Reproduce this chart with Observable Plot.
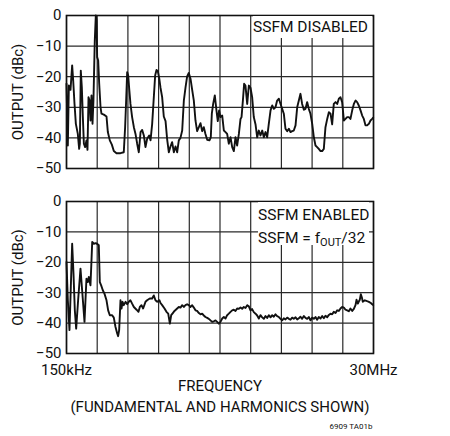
<!DOCTYPE html>
<html>
<head>
<meta charset="utf-8">
<script src="https://cdn.jsdelivr.net/npm/d3@7"></script>
<script src="https://cdn.jsdelivr.net/npm/@observablehq/plot@0.6"></script>
<style>
  html, body { margin: 0; padding: 0; background: #fff; }
  #wrap { position: relative; width: 450px; height: 436px; overflow: hidden; font-family: Roboto, "Liberation Sans", sans-serif; color: #111; }
  #wrap svg { position: absolute; left: 0; }
  .note { position: absolute; background: #fff; text-align: right; font-size: 15.5px; box-sizing: border-box; padding-right: 6px; white-space: nowrap; }
  .sub { font-size: 11px; position: relative; top: 3px; }
</style>
</head>
<body>
<div id="wrap"></div>
<script>
// ---- Data (frequency in MHz, output in dBc) ----
const xDomain = [0.15, 30];
const xTickValues = [0.15, 30];
const xTickLabels = ["150kHz", "30MHz"];
const yTicks = [0, -10, -20, -30, -40, -50];
const yLabel = "OUTPUT (dBc)";
const xLabel = "FREQUENCY\n(FUNDAMENTAL AND HARMONICS SHOWN)";
const figId = "6909 TA01b";
const noteTop = "SSFM DISABLED";
const noteBottom1 = "SSFM ENABLED";

const disabledFreq = [0.15,0.28,0.38,0.54,0.70,0.80,0.93,1.06,1.25,1.38,
1.45,1.54,1.64,1.74,1.84,1.96,2.09,2.19,2.29,2.39,
2.48,2.58,2.68,2.77,2.90,3.00,3.07,3.13,3.23,3.33,
3.46,3.55,3.78,4.04,4.17,4.36,4.56,4.75,5.01,5.40,
5.72,5.85,5.95,6.05,6.15,6.24,6.37,6.53,6.70,6.86,
7.02,7.18,7.35,7.51,7.67,7.83,7.99,8.19,8.32,8.48,
8.64,8.77,8.90,9.03,9.16,9.29,9.45,9.61,9.78,9.94,
10.10,10.26,10.42,10.59,10.75,10.91,11.07,11.23,11.40,11.56,
11.72,11.88,12.04,12.21,12.37,12.53,12.69,12.85,13.02,13.18,
13.34,13.50,13.66,13.83,14.05,14.18,14.28,14.41,14.57,14.73,
14.86,14.99,15.12,15.29,15.45,
15.61,15.77,15.93,16.10,16.26,16.42,16.58,16.74,16.91,17.07,
17.17,17.30,17.42,17.55,17.72,17.88,18.04,18.20,18.36,18.53,
18.69,18.85,19.01,19.18,19.34,19.50,19.66,19.82,19.99,20.15,
20.31,20.47,20.63,20.80,20.96,21.12,21.28,21.44,21.61,21.77,
21.93,22.09,22.25,22.42,22.58,22.74,22.90,23.06,23.23,23.39,
23.55,23.71,23.87,24.04,24.20,24.36,24.52,24.68,24.85,25.01,
25.17,25.33,25.50,25.66,25.82,25.98,26.14,26.31,26.47,26.63,
26.79,26.95,27.12,27.28,27.44,27.60,27.76,27.93,28.09,28.25,
28.41,28.57,28.74,28.90,29.06,29.22,29.38,29.55,29.71,29.87,
29.97];
const disabledDb = [-22.3,-42.5,-22.9,-24.3,-16.3,-21.2,-28.9,-35.4,-38.7,-43.6,
-41.9,-18.0,-23.4,-33.2,-41.9,-43.0,-40.8,-43.9,-26.7,-27.8,
-34.3,-26.1,-35.4,-27.8,-8.2,0,-1.6,-13.6,-14.7,-22.3,
-30.0,-32.1,-32.4,-33.0,-38.1,-40.8,-42.2,-44.3,-45.0,-45.0,
-44.7,-36.5,-27.8,-18.5,-19.6,-23.6,-28.9,-33.2,-36.5,-38.7,
-41.9,-44.7,-38.1,-37.4,-39.2,-43.0,-40.3,-39.2,-40.8,-35.4,
-26.7,-19.6,-17.8,-18.2,-20.4,-23.6,-26.7,-33.0,-34.5,-40.6,
-44.7,-42.8,-41.4,-44.7,-42.8,-44.7,-40.8,-40.0,-37.6,-27.8,
-23.6,-19.9,-18.8,-20.7,-24.3,-27.8,-34.3,-37.8,-36.5,-35.2,
-37.8,-36.5,-38.7,-40.6,-40.8,-39.8,-32.1,-28.9,-26.1,-31.0,
-34.5,-31.0,-33.2,-32.7,-37.6,
-38.1,-38.7,-41.9,-39.8,-43.0,-44.3,-39.8,-42.5,-38.7,-33.8,
-33.2,-27.8,-22.3,-22.9,-28.9,-22.9,-23.6,-26.7,-33.2,-35.6,
-39.8,-37.6,-39.2,-37.6,-39.8,-38.1,-39.8,-35.4,-31.0,-29.4,
-30.5,-30.0,-27.8,-27.2,-28.9,-30.5,-32.1,-37.0,-37.8,-37.0,
-38.1,-37.8,-37.6,-35.9,-30.0,-27.8,-25.6,-28.9,-30.8,-30.5,
-28.3,-30.5,-32.1,-35.4,-39.8,-42.5,-43.0,-43.6,-44.3,-44.3,
-43.6,-36.5,-33.8,-31.6,-32.1,-35.6,-28.9,-28.3,-28.9,-27.2,
-26.7,-28.3,-34.3,-33.8,-33.2,-33.2,-33.8,-31.0,-28.9,-27.8,
-28.3,-29.4,-31.0,-32.7,-33.8,-35.9,-35.9,-35.4,-34.3,-33.8,
-33.4];

const enabledFreq = [0.15,0.28,0.44,0.57,0.70,0.83,0.96,1.09,1.28,1.51,
1.67,1.90,2.09,2.22,2.32,2.48,2.58,2.65,2.81,3.00,
3.20,3.29,3.39,3.52,3.68,3.84,4.04,4.20,4.36,4.59,
4.75,4.91,5.08,5.17,5.27,5.40,5.50,5.60,5.72,5.89,
6.05,6.21,6.37,6.53,6.70,6.96,7.15,7.28,7.44,7.60,
7.83,7.99,8.25,8.48,8.64,8.80,8.97,9.19,
9.29,9.45,9.68,9.87,10.04,10.20,10.33,10.49,10.65,10.91,
11.07,11.23,11.40,11.56,11.72,11.88,12.04,12.21,12.37,12.53,
12.69,12.85,13.02,13.18,13.34,13.50,13.66,13.83,13.99,14.15,
14.31,14.47,14.64,14.80,14.96,15.12,15.29,15.45,
15.61,15.77,15.93,16.10,16.26,16.42,16.58,16.74,16.91,17.07,
17.23,17.39,17.55,17.72,17.88,18.04,18.20,18.36,18.53,18.69,
18.85,19.01,19.18,19.34,19.50,19.66,19.82,19.99,20.15,20.31,
20.47,20.63,20.80,20.96,21.12,21.28,21.44,21.61,21.77,21.93,
22.09,22.25,22.42,22.58,22.74,22.90,23.06,23.23,23.39,23.55,
23.71,23.87,24.04,24.20,24.36,24.52,24.68,24.85,25.01,25.17,
25.33,25.50,25.66,25.82,25.98,26.14,26.31,26.47,26.63,26.79,
26.95,27.12,27.28,27.44,27.60,27.76,27.93,28.09,28.25,28.35,
28.48,28.57,28.67,28.77,28.87,28.96,29.16,29.38,29.55,29.74,
29.87,29.97];
const enabledDb = [-19.9,-32.5,-42.3,-28.1,-13.9,-23.7,-35.8,-41.8,-32.5,-22.1,
-29.2,-39.6,-25.4,-26.5,-24.8,-27.6,-19.4,-13.3,-13.9,-13.7,
-14.1,-14.4,-26.5,-27.6,-29.2,-30.3,-32.5,-35.8,-37.4,-37.4,
-38.2,-41.2,-43.4,-44.3,-42.3,-32.5,-35.2,-33.0,-34.1,-33.0,
-33.8,-33.0,-32.5,-33.6,-34.7,-35.6,-36.3,-34.7,-34.1,-35.2,
-33.0,-32.5,-31.9,-31.9,-30.9,-32.5,-33.0,-32.5,
-33.4,-34.1,-35.2,-36.3,-36.9,-40.2,-37.4,-36.7,-36.0,-35.2,
-34.7,-34.9,-34.1,-34.7,-34.1,-33.8,-34.1,-34.7,-34.1,-34.9,
-35.8,-36.0,-36.7,-37.1,-36.9,-37.5,-38.0,-38.3,-38.6,-39.1,
-39.6,-39.4,-39.1,-39.6,-40.2,-39.6,-38.5,-38.0,
-38.5,-37.4,-36.9,-36.3,-35.8,-35.6,-36.0,-35.2,-35.3,-34.9,
-35.3,-34.7,-35.0,-34.1,-34.5,-35.8,-35.4,-36.4,-36.9,-37.5,
-38.5,-37.4,-38.1,-38.6,-37.7,-38.3,-37.4,-38.1,-37.4,-37.9,
-37.1,-37.7,-38.0,-38.6,-39.1,-38.4,-38.8,-38.2,-38.6,-38.9,
-38.2,-38.6,-38.1,-38.8,-38.4,-37.9,-38.6,-37.7,-38.3,-38.6,
-38.0,-39.1,-38.2,-38.6,-38.0,-38.9,-38.0,-38.5,-37.7,-38.4,
-37.6,-38.1,-37.3,-36.9,-37.1,-36.3,-36.7,-35.8,-36.0,-35.2,
-34.7,-34.9,-35.6,-35.8,-36.1,-35.2,-36.0,-35.3,-34.1,-32.3,
-33.6,-32.9,-32.3,-30.5,-31.6,-33.0,-32.5,-32.8,-33.0,-33.4,
-33.8,-34.1];

// ---- Build tables ----
function table(fs, ds) {
  const n = Math.min(fs.length, ds.length);
  return d3.range(n).map(i => ({f: fs[i], db: ds[i]}));
}
const disabledRows = table(disabledFreq, disabledDb);
const enabledRows = table(enabledFreq, enabledDb);
// 10 equal grid divisions across the frequency span
const gridX = d3.range(11).map(i => xDomain[0] + i * (xDomain[1] - xDomain[0]) / 10);

const FONT = `Roboto, "Liberation Sans", sans-serif`;
const gridStyle = {stroke: "#2a2a2a", strokeWidth: 1.2};

function panel(data, opts) {
  return Plot.plot({
    width: 450,
    height: opts.height,
    marginLeft: 66,
    marginRight: 77,
    marginTop: 15,
    marginBottom: opts.marginBottom,
    style: {fontFamily: FONT, fontSize: "15px", color: "#111", background: "transparent", overflow: "visible"},
    x: opts.xAxis
      ? {domain: xDomain, ticks: xTickValues, tickFormat: d => xTickLabels[xTickValues.indexOf(d)], tickSize: 0, tickPadding: 11, label: null}
      : {domain: xDomain, axis: null},
    y: {domain: [-50, 0], ticks: yTicks, tickFormat: d3.format("d"), tickSize: 0, tickPadding: 5,
        label: yLabel, labelAnchor: "center", labelArrow: "none", labelOffset: 54},
    marks: [
      Plot.ruleX(gridX, gridStyle),
      Plot.ruleY(yTicks, gridStyle),
      Plot.line(data, {x: "f", y: "db", stroke: "#111", strokeWidth: 1.9, strokeLinejoin: "round"}),
      Plot.frame({stroke: "#111", strokeWidth: 1.6}),
      ...(opts.extra || [])
    ]
  });
}

const wrapEl = document.getElementById("wrap");

const topPanel = panel(disabledRows, {height: 186, marginBottom: 18});
topPanel.style.top = "0px";
wrapEl.appendChild(topPanel);

const bottomPanel = panel(enabledRows, {
  height: 250, marginBottom: 83, xAxis: true,
  extra: [
    Plot.text([xLabel], {frameAnchor: "bottom", text: d => d, lineAnchor: "top", dy: 22, lineHeight: 1.42, fontSize: 15}),
    Plot.text([figId], {frameAnchor: "bottom-right", text: d => d, textAnchor: "end", lineAnchor: "middle", dx: -1, dy: 73, fontSize: 8})
  ]
});
bottomPanel.style.top = "186px";
wrapEl.appendChild(bottomPanel);

// Annotation boxes (white background hides grid)
const n1 = document.createElement("div");
n1.className = "note";
Object.assign(n1.style, {left: "253px", top: "16px", width: "119px", height: "22px", lineHeight: "22px"});
n1.textContent = noteTop;
wrapEl.appendChild(n1);

const n2 = document.createElement("div");
n2.className = "note";
Object.assign(n2.style, {left: "258px", top: "202px", width: "111px", height: "43px", lineHeight: "23px", paddingTop: "2px"});
n2.innerHTML = `${noteBottom1}<br>SSFM = f<span class="sub">OUT</span>/32`;
wrapEl.appendChild(n2);
</script>
</body>
</html>
